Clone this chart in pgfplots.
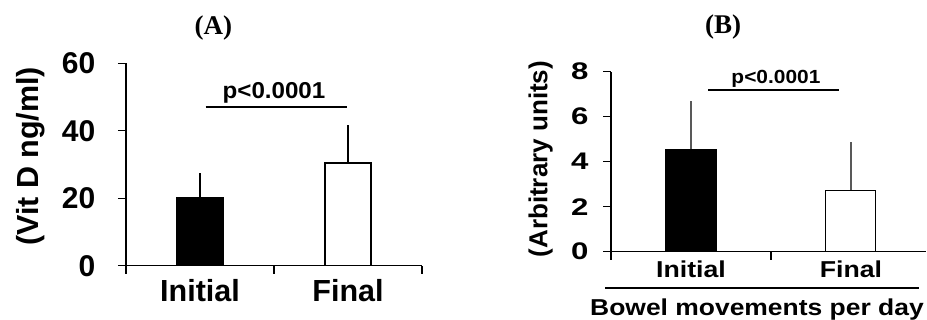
\documentclass[border=0pt]{standalone}
\usepackage{fontspec}
\setmainfont{Liberation Sans}
\newfontfamily\serifb{Liberation Serif}
\usepackage{graphicx}
\usepackage{pgfplots}
\pgfplotsset{compat=1.18}
\begin{document}
\begin{tikzpicture}
\useasboundingbox (0,0) rectangle (927pt,320pt);
\node[font=\serifb\bfseries\fontsize{27}{27}\selectfont] at (213.3pt,292pt) {(A)};
\node[font=\serifb\bfseries\fontsize{27}{27}\selectfont] at (723pt,293pt) {(B)};

% ---------------- Panel A ----------------
\begin{axis}[
  at={(126pt,54.3pt)}, anchor=south west, scale only axis,
  width=296pt, height=202.4pt,
  xmin=-0.5, xmax=1.5, ymin=0, ymax=60,
  axis x line*=bottom, axis y line*=left,
  axis line style={line width=1.3pt, black},
  tick align=outside,
  /pgf/number format/assume math mode=true,
  ytick={0,20,40,60},
  major tick length=8pt,
  tick style={line width=1.3pt, black},
  yticklabel style={anchor=east, inner sep=0pt, xshift=-22.5pt,
    font=\bfseries\fontsize{30}{30}\selectfont},
  xtick={-0.5,0.5,1.5}, xticklabels={},
  extra x ticks={0,1}, extra x tick labels={Initial,Final},
  extra x tick style={major tick length=0pt,
    tick label style={anchor=base, yshift=-36pt, inner sep=0pt,
      font=\bfseries\fontsize{30.5}{30.5}\selectfont}},
  ylabel={(Vit D ng/ml)},
  ylabel style={at={(axis description cs:-0.321,0.54)}, anchor=center,
    font=\bfseries\fontsize{30.5}{30.5}\selectfont},
  clip=false,
]
\addplot[ybar, bar shift=0pt, bar width=46pt, fill=black, draw=black, line width=1.3pt,
  error bars/.cd, y dir=plus, y explicit, error mark=none,
  error bar style={line width=1.3pt, black}]
  coordinates {(0,20.2) +- (0,7.2)};
\addplot[ybar, bar shift=0pt, bar width=46pt, fill=white, draw=black, line width=1.3pt,
  error bars/.cd, y dir=plus, y explicit, error mark=none,
  error bar style={line width=1.3pt, black}]
  coordinates {(1,30.4) +- (0,11.3)};
\addplot[line width=2pt, black] coordinates {(0.0385,47.1) (0.991,47.1)};
\node[font=\bfseries\fontsize{23}{23}\selectfont, anchor=base] at (axis cs:0.5,49.6) {\scalebox{1.05}[1]{p<0.0001}};
\end{axis}

% ---------------- Panel B ----------------
\begin{axis}[
  at={(611pt,68.3pt)}, anchor=south west, scale only axis,
  width=315pt, height=180pt,
  xmin=-0.5, xmax=1.469, ymin=0, ymax=8,
  axis x line*=bottom, axis y line*=left,
  axis line style={line width=1.1pt, black},
  tick align=outside,
  /pgf/number format/assume math mode=true,
  ytick={0,2,4,6,8},
  major tick length=8pt,
  tick style={line width=1.1pt, black},
  yticklabel={\scalebox{1.3}[1]{\pgfmathprintnumber{\tick}}},
  yticklabel style={anchor=east, inner sep=0pt, xshift=-14.3pt,
    font=\bfseries\fontsize{24}{24}\selectfont},
  xtick={-0.5,0.5}, xticklabels={},
  extra x ticks={0,1}, extra x tick labels={\scalebox{1.16}[1]{Initial},\scalebox{1.16}[1]{Final}},
  extra x tick style={major tick length=0pt,
    tick label style={anchor=base, yshift=-26pt, inner sep=0pt,
      font=\bfseries\fontsize{23}{23}\selectfont}},
  ylabel={(Arbitrary units)},
  ylabel style={at={(axis description cs:-0.223,0.514)}, anchor=center,
    font=\bfseries\fontsize{26}{26}\selectfont},
  clip=false,
]
\addplot[ybar, bar shift=0pt, bar width=51pt, fill=black, draw=black, line width=1pt,
  error bars/.cd, y dir=plus, y explicit, error mark=none,
  error bar style={line width=1.1pt, black!65}]
  coordinates {(0,4.56) +- (0,2.14)};
\addplot[ybar, bar shift=0pt, bar width=50pt, fill=white, draw=black, line width=1pt,
  error bars/.cd, y dir=plus, y explicit, error mark=none,
  error bar style={line width=1.1pt, black!65}]
  coordinates {(1,2.74) +- (0,2.12)};
\addplot[line width=2pt, black] coordinates {(0.108,7.19) (0.925,7.19)};
\node[font=\bfseries\fontsize{19}{19}\selectfont, anchor=base] at (axis cs:0.531,7.48) {\scalebox{1.1}[1]{p<0.0001}};
\draw[line width=1.6pt, black] (axis description cs:-0.019,-0.203) -- (axis description cs:0.979,-0.203);
\node[font=\bfseries\fontsize{23}{23}\selectfont, anchor=base] at (axis description cs:0.4635,-0.352) {\scalebox{1.15}[1]{Bowel movements per day}};
\end{axis}
\end{tikzpicture}
\end{document}
